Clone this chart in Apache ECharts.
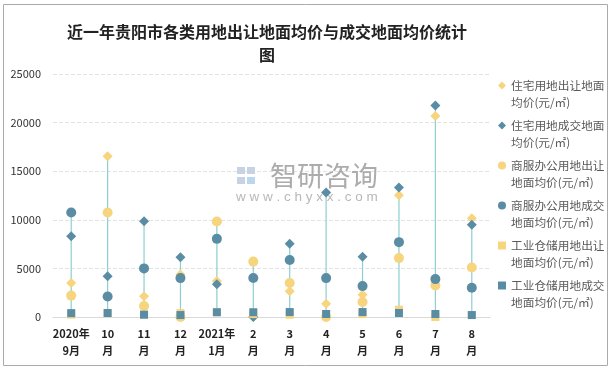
<!DOCTYPE html>
<html><head><meta charset="utf-8">
<script src="https://cdn.jsdelivr.net/npm/echarts@6/dist/echarts.min.js"></script>
<style>html,body{margin:0;padding:0;background:#fff;}#c{width:613px;height:369px;}</style>
</head><body><div id="c"></div>
<script>
const categories = ['2020年\n9月','10\n月','11\n月','12\n月','2021年\n1月','2\n月','3\n月','4\n月','5\n月','6\n月','7\n月','8\n月'];
const seriesNames = ['住宅用地出让地面均价(元/㎡)','住宅用地成交地面均价(元/㎡)','商服办公用地出让地面均价(元/㎡)','商服办公用地成交地面均价(元/㎡)','工业仓储用地出让地面均价(元/㎡)','工业仓储用地成交地面均价(元/㎡)'];
const legendLabels = ['住宅用地出让地面\n均价(元/㎡)','住宅用地成交地面\n均价(元/㎡)','商服办公用地出让\n地面均价(元/㎡)','商服办公用地成交\n地面均价(元/㎡)','工业仓储用地出让\n地面均价(元/㎡)','工业仓储用地成交\n地面均价(元/㎡)'];
const resSupply = [3500,16550,2130,4360,3700,0,2640,1370,2290,12530,20680,10170];
const resDeal   = [8300,4200,9850,6150,3370,0,7530,12810,6200,13320,21750,9490];
const comSupply = [2200,10750,1130,0,9820,5700,3490,0,1540,6060,3250,5100];
const comDeal   = [10750,2100,5000,4000,8040,4020,5860,4000,3180,7700,3900,3010];
const indSupply = [250,410,240,400,490,300,240,310,300,750,0,200];
const indDeal   = [400,410,240,200,490,490,510,310,510,410,310,200];
const yTicks = [0,5000,10000,15000,20000,25000];

const YELLOW = '#F7D47E', BLUE = '#5A8DA4', LINE = '#8CCFCF';
const allVals = [resSupply,resDeal,comSupply,comDeal,indSupply,indDeal];
const hiLo = categories.map((c,i)=>{const v=allVals.map(a=>a[i]);return [i,Math.min(...v),Math.max(...v)];});
const symbols = ['diamond','diamond','circle','circle','rect','rect'];
const sizes = [10,10,10,10,8,8];
const colors = [YELLOW,BLUE,YELLOW,BLUE,YELLOW,BLUE];

const chart = echarts.init(document.getElementById('c'), null, {renderer:'canvas'});
const scatterSeries = allVals.map((arr,k)=>({
  name: seriesNames[k], type:'scatter', data: arr, symbol: symbols[k], symbolSize: sizes[k],
  itemStyle:{color:colors[k], opacity:1}, z: 3+k, emphasis:{disabled:true}
}));
chart.setOption({
  animation:false,
  backgroundColor:'#fff',
  title:{text:'近一年贵阳市各类用地出让地面均价与成交地面均价统计\n图', left:262, top:15, textAlign:'center',
    textStyle:{fontFamily:'"Noto Sans CJK SC"', fontSize:16, fontWeight:'bold', color:'#222', lineHeight:23}},
  grid:{left:53, right:123, top:74, bottom:52},
  xAxis:{type:'category', data:categories, boundaryGap:true,
    axisLine:{lineStyle:{color:'#d9d9d9'}}, axisTick:{show:false},
    axisLabel:{interval:0, color:'#222', fontSize:11, fontWeight:'bold', lineHeight:17, margin:8, fontFamily:'"Noto Sans CJK SC"'}},
  yAxis:{type:'value', min:0, max:25000, interval:5000,
    axisLine:{show:false}, axisTick:{show:false},
    axisLabel:{color:'#333', fontSize:11, margin:12, fontFamily:'"Noto Sans CJK SC"', formatter: v => String(v)},
    splitLine:{lineStyle:{color:'#e3e3e3', type:'dashed'}}},
  legend:{orient:'vertical', left:498, top:60, padding:0, itemWidth:8, itemHeight:8, itemGap:-11,
    data: seriesNames.map((n,k)=>({name:n, icon: symbols[k]})),
    formatter: n => '\n' + legendLabels[seriesNames.indexOf(n)],
    textStyle:{fontSize:11.7, color:'#595959', lineHeight:17, fontFamily:'"Noto Sans CJK SC"'}},
  graphic:[
    {type:'rect', shape:{x:3.5,y:4.5,width:604,height:361}, style:{fill:'none', stroke:'#aaa', lineWidth:1}, silent:true},
    {type:'rect', shape:{x:237,y:167,width:8,height:7}, style:{fill:'#c7d3e3'}, silent:true, z:1},
    {type:'rect', shape:{x:247,y:167,width:8,height:7}, style:{fill:'#c7d3e3'}, silent:true, z:1},
    {type:'rect', shape:{x:237,y:177,width:8,height:7}, style:{fill:'#c7d3e3'}, silent:true, z:1},
    {type:'rect', shape:{x:247,y:177,width:8,height:7}, style:{fill:'#b9d8ee'}, silent:true, z:1},
    {type:'text', style:{x:270, y:176, text:'智研咨询', font:'27px "Noto Sans CJK SC"', fill:'#acacac', textVerticalAlign:'middle'}, silent:true, z:1},
    {type:'text', style:{x:236, y:197, text:'w w w . c h y x x . c o m', font:'13.5px "Liberation Sans"', fill:'#b8b8b8', textVerticalAlign:'middle'}, silent:true, z:1}
  ],
  series:[
    {type:'custom', name:'hilo', data:hiLo, z:2, silent:true,
      renderItem:(params, api)=>{
        const p1 = api.coord([api.value(0), api.value(1)]);
        const p2 = api.coord([api.value(0), api.value(2)]);
        return {type:'line', shape:{x1:p1[0],y1:p1[1],x2:p2[0],y2:p2[1]}, style:{stroke:LINE, lineWidth:1.2}};
      }}
  ].concat(scatterSeries)
});
</script></body></html>
